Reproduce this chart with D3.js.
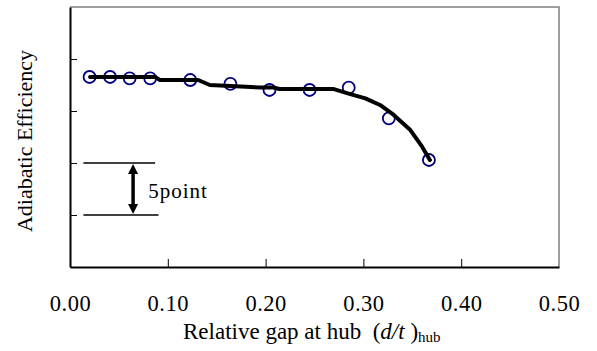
<!DOCTYPE html>
<html>
<head>
<meta charset="utf-8">
<script src="https://cdn.jsdelivr.net/npm/d3@7"></script>
<style>
  body { margin: 0; background: #fff; }
  svg { font-family: "Liberation Serif", "Times New Roman", Times, serif; }
  text { fill: #000; }
</style>
</head>
<body>
<svg id="chart"></svg>
<script>

// measured points (relative gap vs efficiency, in "points")
var gapX = [0.020, 0.041, 0.061, 0.082, 0.123, 0.164, 0.204, 0.245, 0.285, 0.326, 0.367];
var effY = [18.27, 18.27, 18.14, 18.14, 17.98, 17.6, 17.02, 17.02, 17.24, 14.3, 10.29];

// fitted trend line
var fitX = [0.0205, 0.087, 0.092, 0.131, 0.143, 0.164, 0.194, 0.208, 0.214, 0.269, 0.284, 0.302, 0.317, 0.331, 0.348, 0.360, 0.368];
var fitY = [18.27, 18.27, 17.98, 17.98, 17.5, 17.4, 17.26, 17.26, 17.12, 17.12, 16.7, 16.22, 15.58, 14.62, 13.17, 11.57, 10.29];

var xTicks = [0, 0.1, 0.2, 0.3, 0.4, 0.5];
var yTicks = [5, 10, 15, 20];

// 5 point scale bar
var barLow = 5, barHigh = 10;

var width = 597, height = 351;
var margin = {top: 7, right: 38, bottom: 84, left: 70};
var serif = '"Liberation Serif", "Times New Roman", Times, serif';

var svg = d3.select("#chart").attr("width", width).attr("height", height);

var x = d3.scaleLinear().domain([0, 0.5]).range([margin.left, width - margin.right]);
var y = d3.scaleLinear().domain([0, 25]).range([height - margin.bottom, margin.top]);

//frame: gray top/right, black left/bottom
svg.append("path")
    .attr("d", "M" + x(0) + "," + y(25) + "H" + x(0.5) + "V" + y(0))
    .attr("fill", "none").attr("stroke", "#808080").attr("stroke-width", 1.5);

var xAxis = svg.append("g")
    .attr("transform", "translate(0," + y(0) + ")")
    .call(d3.axisBottom(x).tickValues(xTicks).tickFormat(d3.format(".2f")).tickSizeInner(-8).tickSizeOuter(0));
xAxis.select(".domain").attr("stroke", "#000").attr("stroke-width", 2);
xAxis.selectAll(".tick line").attr("stroke", "#000").attr("stroke-width", 1);
xAxis.selectAll(".tick text")
    .attr("y", 44).attr("dy", 0)
    .attr("font-family", serif)
    .attr("font-size", 22.5).style("letter-spacing", "0.5px");
xAxis.selectAll(".tick").filter(function(d){ return d === 0.5 || d === 0; }).select("line").remove();

var yAxis = svg.append("g")
    .attr("transform", "translate(" + x(0) + ",0)")
    .call(d3.axisLeft(y).tickValues(yTicks).tickFormat("").tickSizeInner(-7).tickSizeOuter(0));
yAxis.select(".domain").attr("stroke", "#000").attr("stroke-width", 2);
yAxis.selectAll(".tick line").attr("stroke", "#000").attr("stroke-width", 1);

// scale bar annotation
svg.append("line")
    .attr("x1", x(0.0137)).attr("x2", x(0.087))
    .attr("y1", y(barHigh)).attr("y2", y(barHigh))
    .attr("stroke", "#000").attr("stroke-width", 1.5);
svg.append("line")
    .attr("x1", x(0.0137)).attr("x2", x(0.0905))
    .attr("y1", y(barLow)).attr("y2", y(barLow))
    .attr("stroke", "#000").attr("stroke-width", 1.5);

var arrowX = x(0.0645), arrowTop = y(barHigh) + 1, arrowBot = y(barLow) - 1;
svg.append("line")
    .attr("x1", arrowX).attr("x2", arrowX).attr("y1", arrowTop + 8).attr("y2", arrowBot - 8)
    .attr("stroke", "#000").attr("stroke-width", 3.5);
svg.append("path")
    .attr("d", "M" + arrowX + "," + arrowTop + "L" + (arrowX - 5) + "," + (arrowTop + 10) + "L" + (arrowX + 5) + "," + (arrowTop + 10) + "Z")
    .attr("fill", "#000");
svg.append("path")
    .attr("d", "M" + arrowX + "," + arrowBot + "L" + (arrowX - 5) + "," + (arrowBot - 10) + "L" + (arrowX + 5) + "," + (arrowBot - 10) + "Z")
    .attr("fill", "#000");
svg.append("text")
    .attr("x", x(0.08)).attr("y", y(barLow) - 17)
    .attr("font-family", serif)
    .attr("font-size", 21).style("letter-spacing", "1px")
    .text("5point");

// data circles
var pts = gapX.map(function(d, i){ return [d, effY[i]]; });
svg.append("g").selectAll("circle")
    .data(pts)
    .enter()
    .append("circle")
    .attr("cx", function(d){ return x(d[0]); })
    .attr("cy", function(d){ return y(d[1]); })
    .attr("r", 6)
    .attr("fill", "none")
    .attr("stroke", "#000080")
    .attr("stroke-width", 1.8);

// trend line
var fit = fitX.map(function(d, i){ return [d, fitY[i]]; });
svg.append("path")
    .datum(fit)
    .attr("d", d3.line().x(function(d){ return x(d[0]); }).y(function(d){ return y(d[1]); }))
    .attr("fill", "none")
    .attr("stroke", "#000")
    .attr("stroke-width", 4)
    .attr("stroke-linejoin", "round")
    .attr("stroke-linecap", "round");

// axis titles
svg.append("text")
    .attr("transform", "translate(32,141) rotate(-90)")
    .attr("text-anchor", "middle")
    .attr("font-family", serif)
    .attr("font-size", 22)
    .text("Adiabatic Efficiency");

var xt = svg.append("text")
    .attr("x", 183).attr("y", 339)
    .attr("font-family", serif)
    .attr("font-size", 23)
    .attr("xml:space", "preserve")
    .style("white-space", "pre");
xt.append("tspan").text("Relative gap at hub  (");
xt.append("tspan").style("font-style", "italic").text("d/t");
xt.append("tspan").text(" )");
xt.append("tspan").attr("dy", 3).attr("font-size", 15).text("hub");

</script>
</body>
</html>
